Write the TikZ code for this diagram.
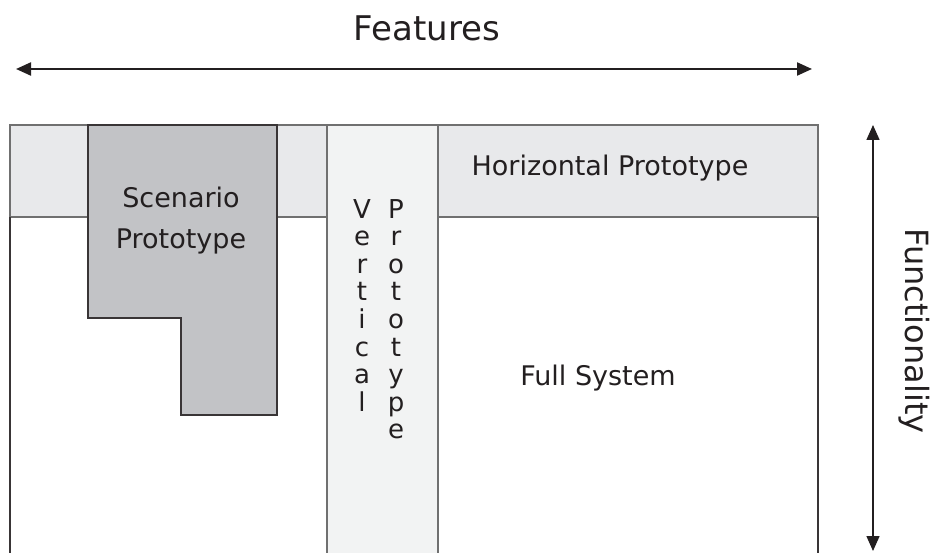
\documentclass[tikz,border=0pt]{standalone}
\usepackage{fontspec}
\setmainfont{DejaVu Sans}
\usetikzlibrary{arrows.meta}

\definecolor{bandgray}{HTML}{E8E9EB}
\definecolor{scengray}{HTML}{C2C3C6}
\definecolor{vertgray}{HTML}{F2F3F3}
\definecolor{edgegray}{HTML}{707070}
\definecolor{inkgray}{HTML}{231F20}

\begin{document}
\begin{tikzpicture}[x=1pt,y=-1pt,
  lbl/.style={font=\fontsize{27}{41}\selectfont, text=inkgray, inner sep=0pt},
  column/.style={font=\fontsize{26}{27.6}\selectfont, text=inkgray, inner sep=0pt, align=center, anchor=north},
  axislbl/.style={font=\fontsize{34}{40}\selectfont, text=inkgray, inner sep=0pt},
  axisarrow/.style={{Triangle[length=15pt,width=13pt]}-{Triangle[length=15pt,width=13pt]}, inkgray}]

  \useasboundingbox (0,0) rectangle (937,553);

  % horizontal band and frame
  \draw[fill=bandgray, draw=edgegray, line width=1.3pt] (10,125) rectangle (818,217);
  \draw[inkgray!90, line width=1.5pt] (10,217) -- (10,553);
  \draw[inkgray!90, line width=1.3pt] (818,217) -- (818,553);

  % vertical prototype
  \draw[fill=vertgray, draw=edgegray, line width=1.3pt] (327,553) -- (327,125) -- (438,125) -- (438,553);

  % scenario prototype
  \draw[fill=scengray, draw=inkgray!90, line width=1.3pt]
    (88,125) -- (277,125) -- (277,415) -- (181,415) -- (181,318) -- (88,318) -- cycle;

  % labels
  \node[lbl, align=center] (scenario) at (181,221) {Scenario\\Prototype};
  \node[lbl, anchor=base] (horizontal) at (610,176) {Horizontal Prototype};
  \node[lbl, anchor=base] (full) at (598,385) {Full System};
  \node[column] (vertical) at (362,199) {V\\e\\r\\t\\i\\c\\a\\l};
  \node[column] (prototype) at (396,199) {P\\r\\o\\t\\o\\t\\y\\p\\e};

  % axes
  \coordinate (featL) at (16,69);
  \coordinate (featR) at (812,69);
  \draw[axisarrow, line width=2.2pt] (featL) -- (featR);
  \node[axislbl, anchor=base] (features) at (427,41) {Features};

  \coordinate (funcT) at (873,125);
  \coordinate (funcB) at (873,551);
  \draw[axisarrow, line width=1.5pt] (funcT) -- (funcB);
  \node[axislbl, rotate=-90, font=\fontsize{32}{38}\selectfont] (functionality) at (914,331) {Functionality};

\end{tikzpicture}
\end{document}
